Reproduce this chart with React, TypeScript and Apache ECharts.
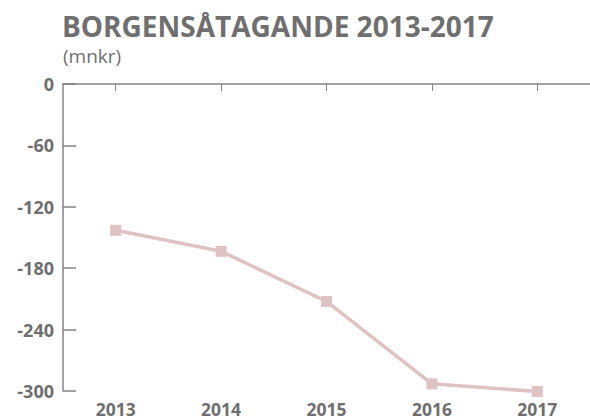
import React, { useEffect, useRef } from "react";
import * as echarts from "echarts";

const years = ["2013", "2014", "2015", "2016", "2017"];
const values = [-143, -163.5, -212.5, -293, -300.5];
const yTicks = { min: -300, max: 0, interval: 60 };
const titleText = "BORGENSÅTAGANDE 2013-2017";
const subtitleText = "(mnkr)";

const TEXT = "#6f6f6f";
const AXIS = "#858585";
const FONT = "'Open Sans', sans-serif";

export default function App() {
  const ref = useRef<HTMLDivElement>(null);
  useEffect(() => {
    const chart = echarts.init(ref.current!, null, { renderer: "svg" });
    chart.setOption({
      animation: false,
      graphic: [
        {
          type: "text",
          left: 62,
          top: 12,
          style: { text: titleText, fontFamily: FONT, fontWeight: 700, fontSize: 28, fill: TEXT },
        },
        {
          type: "text",
          left: 63,
          top: 46,
          style: { text: subtitleText, fontFamily: FONT, fontWeight: 400, fontSize: 19, fill: TEXT },
        },
      ],
      grid: { left: 63, top: 84, width: 537.5, height: 307, containLabel: false },
      xAxis: [
        {
          type: "category",
          data: years,
          position: "top",
          axisLine: { show: true, lineStyle: { color: AXIS, width: 1.5 } },
          axisTick: { show: true, inside: true, alignWithLabel: true, length: 7, lineStyle: { color: AXIS } },
          axisLabel: { show: false },
          splitLine: { show: false },
        },
        {
          type: "category",
          data: years,
          position: "bottom",
          axisLine: { show: false },
          axisTick: { show: false },
          axisLabel: { show: true, margin: 9, lineHeight: 17, fontFamily: FONT, fontWeight: 700, fontSize: 17.5, color: TEXT },
          splitLine: { show: false },
        },
      ],
      yAxis: {
        type: "value",
        min: yTicks.min,
        max: yTicks.max,
        interval: yTicks.interval,
        axisLine: { show: true, lineStyle: { color: AXIS, width: 1.5 } },
        axisTick: { show: true, inside: true, length: 13, lineStyle: { color: AXIS, width: 1.5 } },
        axisLabel: { margin: 9, fontFamily: FONT, fontWeight: 700, fontSize: 18, color: TEXT, padding: [8, 0, 0, 0] },
        splitLine: { show: false },
      },
      series: [
        {
          type: "line",
          data: values,
          xAxisIndex: 0,
          clip: false,
          symbol: "rect",
          symbolSize: 11,
          lineStyle: { color: "#dfc3c2", width: 3.5 },
          itemStyle: { color: "#dfc3c2" },
        },
      ],
    });
    return () => chart.dispose();
  }, []);
  return <div ref={ref} style={{ width: 590, height: 419, position: "absolute", left: 0, top: 0 }} />;
}
